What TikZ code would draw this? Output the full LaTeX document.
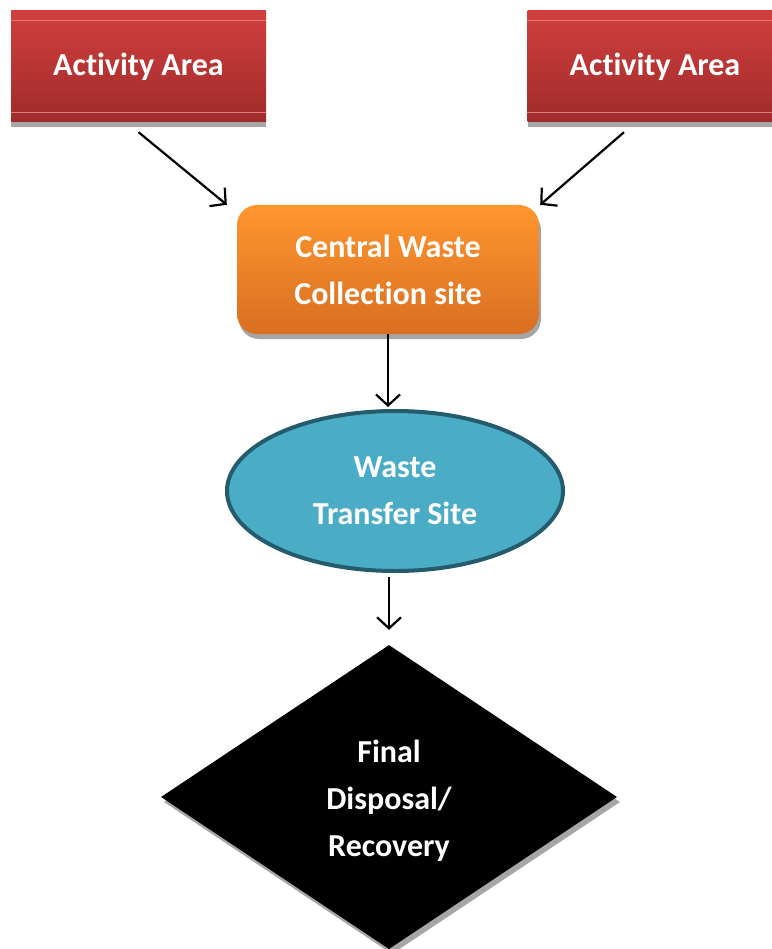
\documentclass[tikz,border=0pt]{standalone}
\usepackage{fontspec}
\setmainfont{Carlito}[Ligatures=NoCommon]
\usetikzlibrary{shapes.geometric,arrows.meta,shadows,calc}
\definecolor{redtop}{HTML}{D03F3E}
\definecolor{redbot}{HTML}{A02B2B}
\definecolor{redline}{HTML}{E07A78}
\definecolor{ortop}{HTML}{FF962E}
\definecolor{orbot}{HTML}{D86F22}
\definecolor{tealfill}{HTML}{4BACC6}
\definecolor{tealdraw}{HTML}{255C6D}
\definecolor{shadowgray}{HTML}{A6A6A6}
\tikzset{
  lbl/.style={text=white, font=\fontsize{32}{47}\selectfont\bfseries, align=center},
  actbox/.style={lbl, rectangle, minimum width=255pt, minimum height=111pt, inner sep=0pt,
    top color=redtop, bottom color=redbot,
    drop shadow={shadow xshift=0pt, shadow yshift=-5pt, fill=shadowgray, opacity=1}},
  cwbox/.style={lbl, rectangle, rounded corners=20pt, minimum width=302pt, minimum height=129pt,
    inner sep=0pt, top color=ortop, bottom color=orbot,
    drop shadow={shadow xshift=2pt, shadow yshift=-5pt, fill=shadowgray, opacity=1}},
  tsell/.style={lbl, ellipse, minimum width=336pt, minimum height=160pt, inner sep=0pt,
    fill=tealfill, draw=tealdraw, line width=4pt},
  fdia/.style={lbl, diamond, minimum width=456pt, minimum height=304pt, inner sep=0pt,
    fill=black, drop shadow={shadow xshift=3pt, shadow yshift=-5pt, fill=shadowgray, opacity=1}},
  arr/.style={line width=2.2pt, -{Straight Barb[length=11pt,width=24pt,line width=2.2pt]}},
}
\begin{document}
\begin{tikzpicture}[x=1pt,y=-1pt]
\useasboundingbox (0,0) rectangle (771,949);
\node[actbox] (a1) at (138.5,66.5) {Activity Area};
\node[actbox] (a2) at (655,66.5) {Activity Area};
\foreach \n in {a1,a2}{
  \draw[redline, line width=0.8pt] ([yshift=-10pt]\n.north west) -- ([yshift=-10pt]\n.north east);
  \draw[redline, line width=0.8pt] ([yshift=10pt]\n.south west) -- ([yshift=10pt]\n.south east);
}
\node[cwbox] (cw) at (388,269.5) {Central Waste\\Collection site};
\node[tsell] (ts) at (395,491) {Waste\\Transfer Site};
\node[fdia] (fd) at (389,797) {};
\node[lbl, anchor=center] (fdt) at (389,801) {Final\\Disposal/\\Recovery};
\draw[arr] ([yshift=-10pt]a1.south) -- ([xshift=-10pt]cw.north west);
\draw[arr] ([xshift=-31pt,yshift=-10pt]a2.south) -- ([xshift=1pt]cw.north east);
\draw[arr] (cw.south) -- ([yshift=2pt]cw.south |- ts.north);
\draw[arr] ([yshift=-4pt]fd.north |- ts.south) -- ([yshift=15pt]fd.north);
\end{tikzpicture}
\end{document}
